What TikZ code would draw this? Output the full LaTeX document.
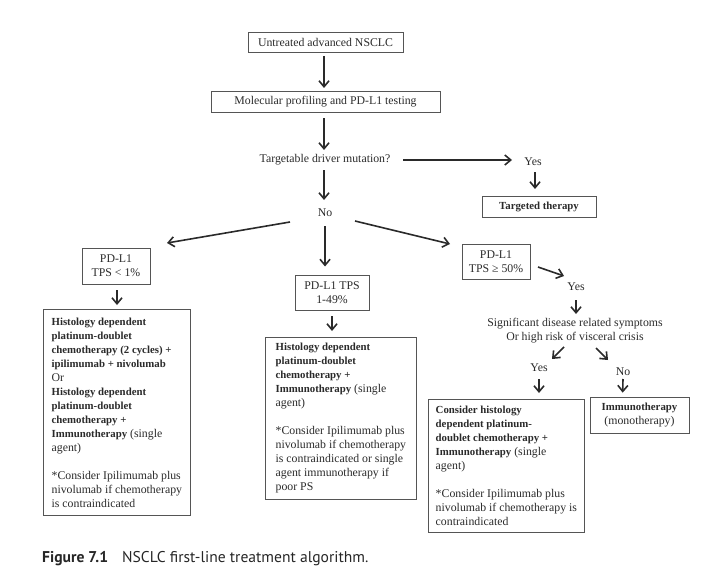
\documentclass[tikz,border=0pt]{standalone}
\usepackage{fontspec}
\setmainfont{Liberation Serif}
\newfontfamily\capfont{PT Sans}
\usetikzlibrary{arrows.meta}
\definecolor{txt}{HTML}{2A2A2A}
\definecolor{edge}{HTML}{555555}
\newcommand\bpart[1]{{\fontsize{10.8}{14}\selectfont\bfseries #1}}
\begin{document}
\begin{tikzpicture}[x=1pt,y=-1pt,
  every node/.style={text=txt},
  sbox/.style={draw=edge, line width=0.7pt, inner sep=2pt, align=center,
    font=\fontsize{11.8}{13.8}\selectfont},
  bigbox/.style={draw=edge, line width=0.7pt, inner xsep=7pt, inner ysep=5pt,
    align=left, anchor=north west, font=\fontsize{11.8}{14}\selectfont},
  lbl/.style={inner sep=1pt, align=center, font=\fontsize{11.8}{13.8}\selectfont},
  arr/.style={line width=1.6pt, draw=txt, -{Straight Barb[length=6pt,width=10pt,line width=1.6pt]}}
]
\useasboundingbox (0,0) rectangle (708,567);

% top boxes
\node[sbox, minimum width=155pt, minimum height=20pt] (start) at (325.5,42) {Untreated advanced NSCLC};
\node[sbox, minimum width=229pt, minimum height=21pt] (mol) at (325.5,101.5) {Molecular profiling and PD-L1 testing};
\node[lbl] (tdm) at (325,160) {Targetable driver mutation?};
\node[lbl] (yes1) at (533,162) {Yes};
\node[sbox, minimum width=114pt, minimum height=21pt] (tt) at (539,206.5) {\bpart{Targeted therapy}};
\node[lbl] (no1) at (325,213) {No};

% PD-L1 boxes
\node[sbox, minimum width=68pt, minimum height=36pt] (pda) at (116,266) {PD-L1\\TPS < 1\%};
\node[sbox, minimum width=74pt, minimum height=35pt] (pdb) at (332,292.5) {PD-L1 TPS\\1-49\%};
\node[sbox, minimum width=68pt, minimum height=35pt] (pdc) at (496,261.5) {PD-L1\\TPS ≥ 50\%};

% big boxes
\node[bigbox, minimum width=147pt, minimum height=206pt] (lbox) at (43,309) {%
\bpart{Histology dependent}\\
\bpart{platinum-doublet}\\
\bpart{chemotherapy (2 cycles) +}\\
\bpart{ipilimumab + nivolumab}\\
Or\\
\bpart{Histology dependent}\\
\bpart{platinum-doublet}\\
\bpart{chemotherapy +}\\
\bpart{Immunotherapy} (single\\
agent)\\[14pt]
*Consider Ipilimumab plus\\
nivolumab if chemotherapy\\
is contraindicated};

\node[bigbox, minimum width=151pt, minimum height=162pt] (mbox) at (265,337) {%
\bpart{Histology dependent}\\
\bpart{platinum-doublet}\\
\bpart{chemotherapy +}\\
\bpart{Immunotherapy} (single\\
agent)\\[14pt]
*Consider Ipilimumab plus\\
nivolumab if chemotherapy\\
is contraindicated or single\\
agent immunotherapy if\\
poor PS};

\node[lbl] (yes2) at (576,287) {Yes};
\node[lbl] (sig) at (575,331) {Significant disease related symptoms\\Or high risk of visceral crisis};
\node[lbl] (yes3) at (539,368) {Yes};
\node[lbl] (no3) at (623,372) {No};

\node[bigbox, minimum width=156pt, minimum height=133pt] (rbox) at (428,399) {%
\bpart{Consider histology}\\
\bpart{dependent platinum-}\\
\bpart{doublet chemotherapy +}\\
\bpart{Immunotherapy} (single\\
agent)\\[14pt]
*Consider Ipilimumab plus\\
nivolumab if chemotherapy is\\
contraindicated};

\node[sbox, minimum width=99pt, minimum height=36pt] (imm) at (639.5,415) {\bpart{Immunotherapy}\\(monotherapy)};

% caption
\node[anchor=west, inner sep=0pt, text=black!85, font=\capfont\fontsize{15.6}{17}\selectfont] (cap) at (42,559) {\textbf{Figure 7.1}\hspace{14pt}NSCLC first-line treatment algorithm.};

% connectors
\draw[arr] ([shift={(-1.5,14)}]start.center) -- ([shift={(-1.5,-13.5)}]mol.center);
\draw[arr] ([shift={(-1.5,16.5)}]mol.center) -- ([shift={(-1,-10)}]tdm.center);
\draw[arr] ([shift={(78,0)}]tdm.center) -- ([shift={(-21,-2)}]yes1.center);
\draw[arr] ([shift={(2,10)}]yes1.center) -- ([shift={(-4,-17.5)}]tt.center);
\draw[arr] ([shift={(-1,10)}]tdm.center) -- ([shift={(-1,-13)}]no1.center);
\draw[arr] ([shift={(-35,9)}]no1.center) -- ([shift={(51,-23)}]pda.center);
\draw[arr] ([shift={(0,13)}]no1.center) -- ([shift={(-7,-26)}]pdb.center);
\draw[arr] ([shift={(30,8)}]no1.center) -- ([shift={(-46,-17.5)}]pdc.center);
\draw[arr] ([shift={(1,24)}]pda.center) -- ([shift={(74,-4)}]lbox.north west);
\draw[arr] ([shift={(0,23.5)}]pdb.center) -- ([shift={(67,-6)}]mbox.north west);
\draw[arr] ([shift={(42,5.5)}]pdc.center) -- ([shift={(-12,-11)}]yes2.center);
\draw[arr] ([shift={(0,13)}]yes2.center) -- ([shift={(1,-17)}]sig.center);
\draw[arr] ([shift={(-11,16)}]sig.center) -- ([shift={(13,-9)}]yes3.center);
\draw[arr] ([shift={(21,17)}]sig.center) -- ([shift={(-15,-12)}]no3.center);
\draw[arr] ([shift={(0,11)}]yes3.center) -- ([shift={(111,-6)}]rbox.north west);
\draw[arr] ([shift={(0,7)}]no3.center) -- ([shift={(33,-4)}]imm.north west);
\end{tikzpicture}
\end{document}
